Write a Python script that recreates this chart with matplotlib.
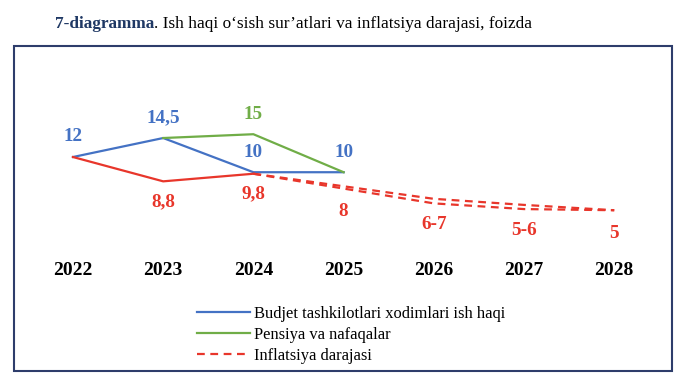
import matplotlib.pyplot as plt
from matplotlib.patches import Rectangle

# data
years = [2022, 2023, 2024, 2025, 2026, 2027, 2028]
budjet_years = [2022, 2023, 2024, 2025]
budjet = [12, 14.5, 10, 10]
pensiya_years = [2023, 2024, 2025]
pensiya = [14.5, 15, 10]
infl_years = [2022, 2023, 2024]
infl = [12, 8.8, 9.8]
forecast_years = [2024, 2025, 2026, 2027, 2028]
forecast_hi = [9.8, 8.15, 6.5, 5.7, 5.0]
forecast_lo = [9.8, 7.85, 5.9, 5.15, 5.0]

budjet_labels = ["12", "14,5", "10", "10"]
pensiya_labels = ["", "15", ""]
infl_labels = ["", "8,8", "9,8"]
forecast_labels = ["", "8", "6-7", "5-6", "5"]

legend_names = ["Budjet tashkilotlari xodimlari ish haqi",
                "Pensiya va nafaqalar",
                "Inflatsiya darajasi"]

blue = "#4472C4"
green = "#70AD47"
red = "#E8362B"
navy = "#1F3864"
serif = ["Liberation Serif", "DejaVu Serif"]

plt.rcParams["font.family"] = serif

fig = plt.figure(figsize=(6.8, 3.81), dpi=100)
ax = fig.add_axes([0, 0, 1, 1])
ax.set_xlim(2021.191, 2028.729)
ax.set_ylim(-17.47, 32.66)
ax.axis("off")

# frame around the chart
fig.patches.append(Rectangle((14 / 680, 1 - 371 / 381), 658 / 680, 325 / 381,
                             transform=fig.transFigure, fill=False,
                             edgecolor="#2E3D6B", lw=1.5))

# title, bold part + plain part
t1 = fig.text(55 / 680, 1 - 32 / 381, "7-diagramma", color=navy,
              fontsize=12.4, fontweight="bold", va="bottom")
ax.annotate(". Ish haqi o\u2018sish sur\u2019atlari va inflatsiya darajasi, foizda",
            xy=(1, 0), xycoords=t1, va="bottom", ha="left",
            fontsize=12.4, color="black")

lb, = ax.plot(budjet_years, budjet, color=blue, lw=1.6)
lg, = ax.plot(pensiya_years, pensiya, color=green, lw=1.6)
ax.plot(infl_years, infl, color=red, lw=1.6)
lr, = ax.plot(forecast_years, forecast_hi, color=red, lw=1.6, ls=(0, (3.5, 2.5)))
ax.plot(forecast_years, forecast_lo, color=red, lw=1.6, ls=(0, (3.5, 2.5)))

lab = dict(ha="center", va="center", fontsize=13.8, fontweight="bold",
           textcoords="offset points")
for x, y, s in zip(budjet_years, budjet, budjet_labels):
    ax.annotate(s, (x, y), xytext=(0, 14.5), color=blue, **lab)
for x, y, s in zip(pensiya_years, pensiya, pensiya_labels):
    ax.annotate(s, (x, y), xytext=(0, 14.5), color=green, **lab)
for x, y, s in zip(infl_years, infl, infl_labels):
    ax.annotate(s, (x, y), xytext=(0, -14.5), color=red, **lab)
for x, y1, y2, s in zip(forecast_years, forecast_hi, forecast_lo, forecast_labels):
    ax.annotate(s, (x, (y1 + y2) / 2), xytext=(0, -17), color=red, **lab)

for yr in years:
    ax.text(yr, -2.87, str(yr), ha="center", va="center",
            fontsize=14, fontweight="bold", color="black")

fig.legend([lb, lg, lr], legend_names, loc="upper left",
           bbox_to_anchor=(190 / 680, 1 - 299 / 381), frameon=False,
           fontsize=11.9, handlelength=3.2, handletextpad=0.3,
           labelspacing=0.32, borderaxespad=0)

fig.savefig("out.png", dpi=100)
